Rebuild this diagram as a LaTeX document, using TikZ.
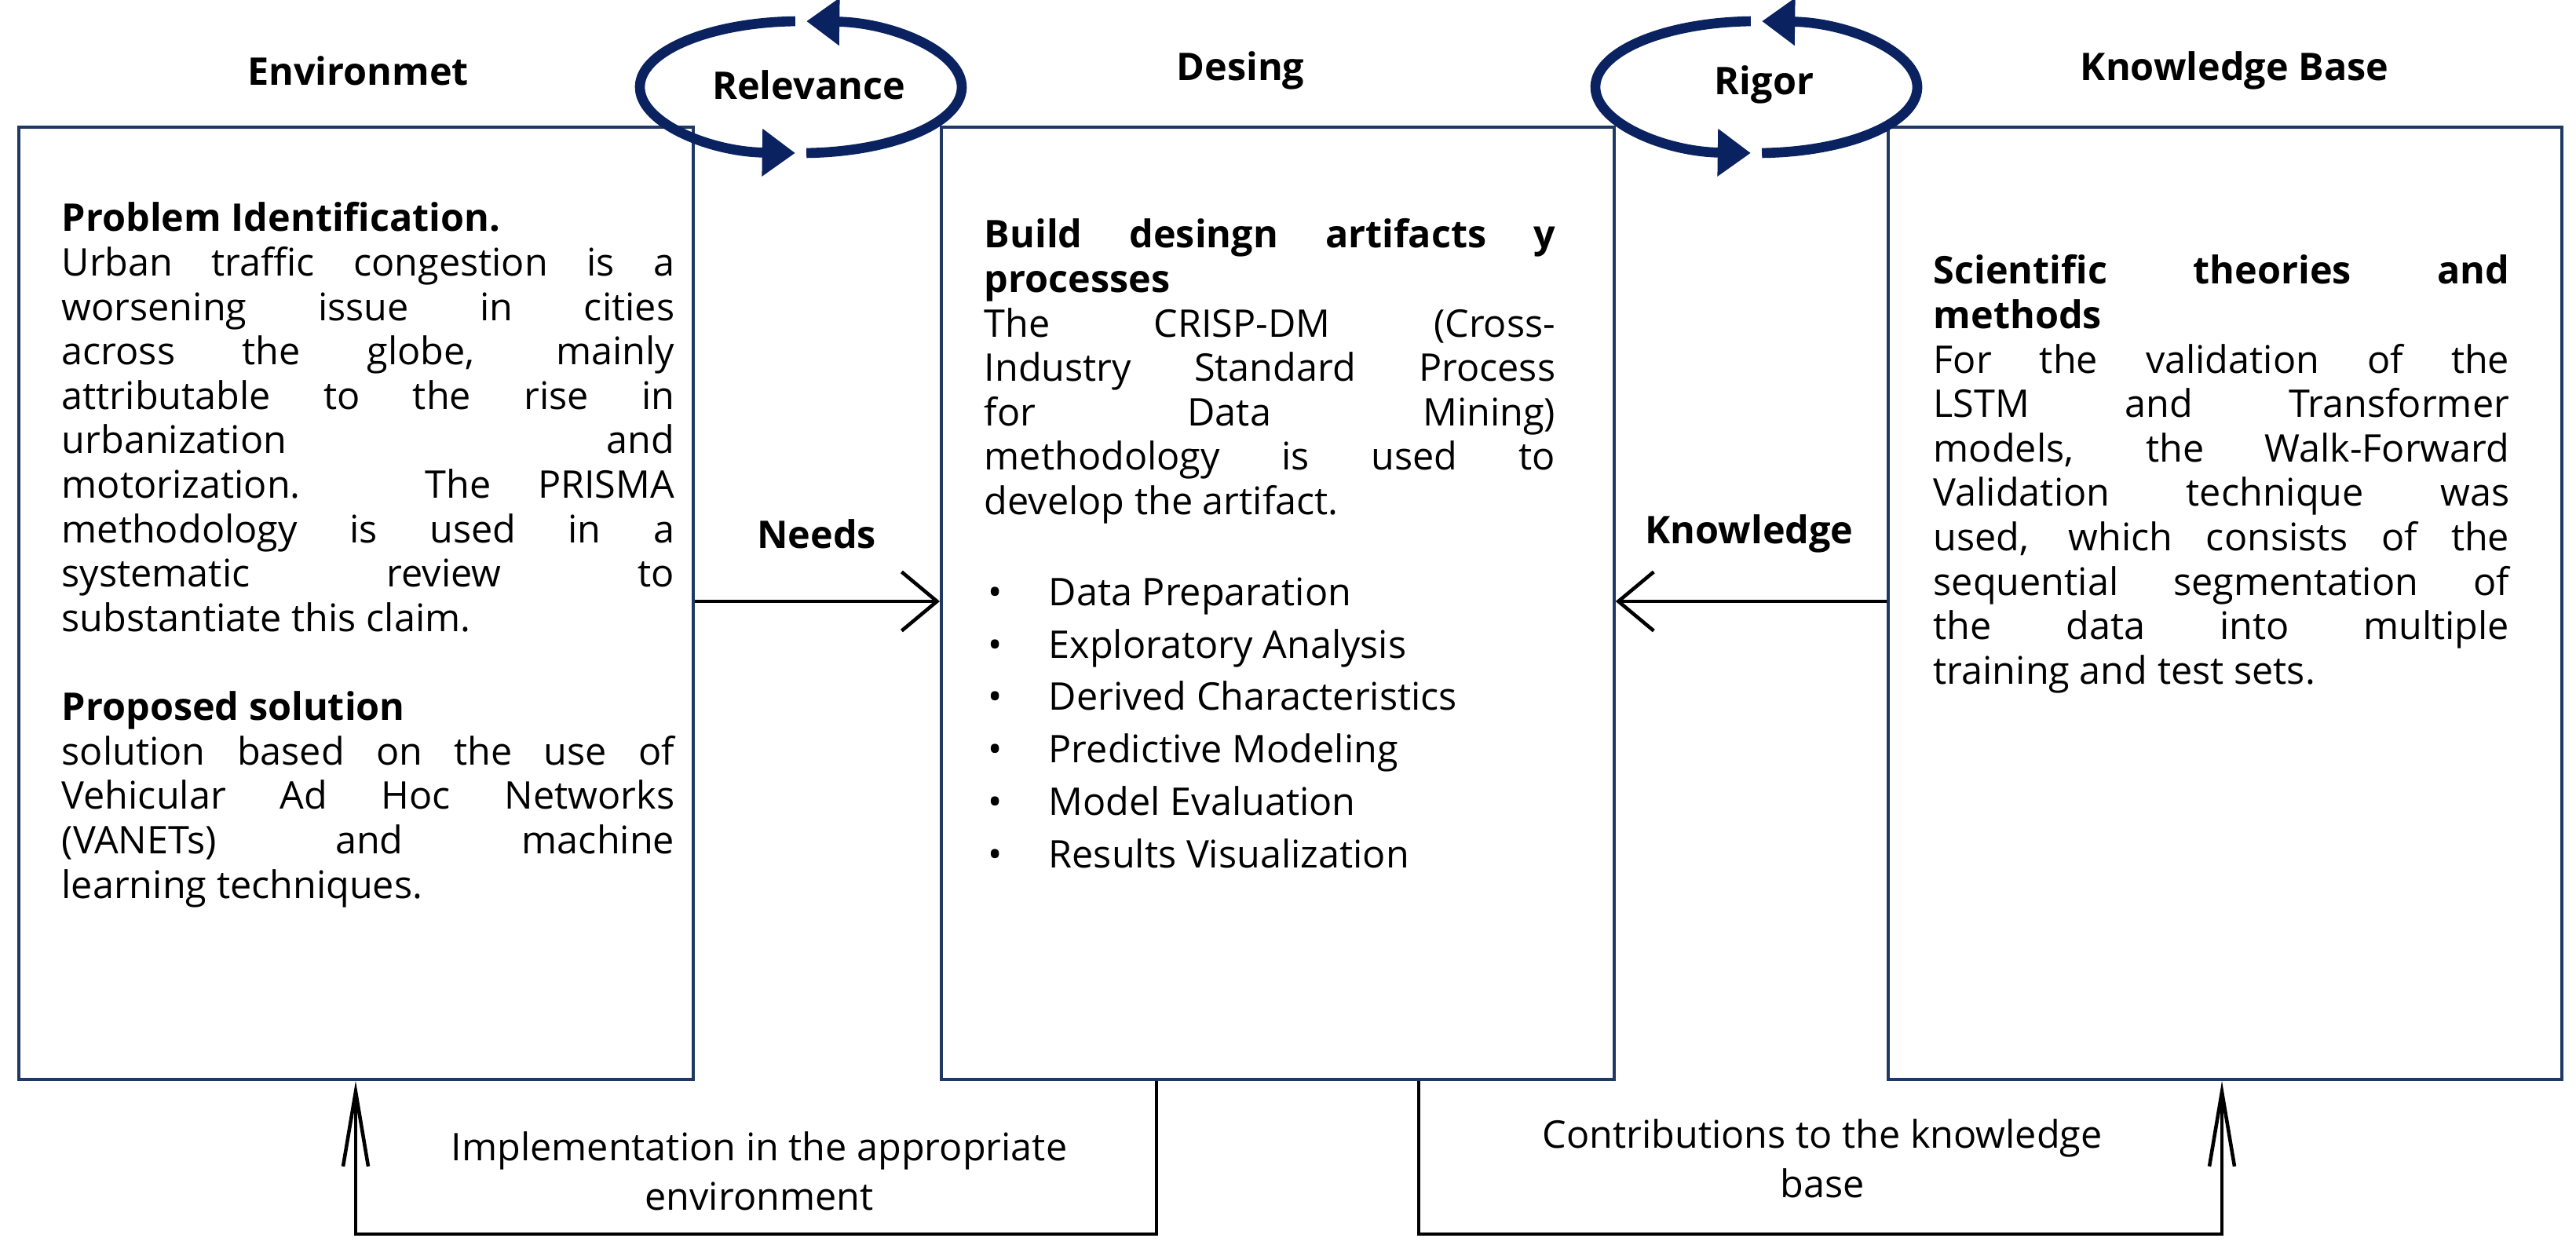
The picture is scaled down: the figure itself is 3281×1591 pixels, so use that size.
\documentclass[tikz,border=0pt]{standalone}
\usepackage{fontspec}
\setmainfont{Open Sans}
\usetikzlibrary{arrows.meta}
\definecolor{navy}{HTML}{0B2260}
\definecolor{boxc}{HTML}{1F3864}
\begin{document}
\begin{tikzpicture}[x=0.01cm,y=-0.01cm,
  box/.style={draw=boxc,line width=1.2pt,inner sep=0},
  body/.style={inner sep=0,anchor=north west,align=justify,font=\fontsize{13.8}{16.1}\selectfont},
  ttl/.style={inner sep=0,font=\bfseries\fontsize{13.8}{16}\selectfont},
  lbl/.style={inner sep=0,align=center,font=\fontsize{13.8}{17.8}\selectfont},
  conn/.style={line width=1.3pt,draw=black},
  openarr/.style={-{Straight Barb[length=0.45cm,width=0.75cm,line width=1.3pt]}},
  uparr/.style={-{Straight Barb[length=0.95cm,width=0.32cm,line width=1.3pt]}},
  cyc/.style={line width=3.6pt,draw=navy,-{Triangle[length=0.42cm,width=0.58cm]}}]
\useasboundingbox (0,0) rectangle (3281,1591);
\fill[white] (0,0) rectangle (3281,1591);

% boxes
\node[box,minimum width=8.58cm,minimum height=12.12cm,anchor=north west] (env) at (22,160) {};
\node[box,minimum width=8.56cm,minimum height=12.12cm,anchor=north west] (des) at (1197,160) {};
\node[box,minimum width=8.57cm,minimum height=12.12cm,anchor=north west] (kb) at (2403,160) {};

% titles
\node[ttl] (t1) at (456,90) {Environmet};
\node[ttl] (t2) at (1580,90) {Desing};
\node[ttl] (t3) at (2846,90) {Knowledge Base};

% cycles
\foreach \cx/\nm/\tx in {1020/rel/Relevance,2237/rig/Rigor}{
  \draw[cyc] (\cx,111) ++(268:205 and 84) arc[start angle=268,end angle=92,x radius=205,y radius=84];
  \draw[cyc] (\cx,111) ++(88:205 and 84) arc[start angle=88,end angle=-88,x radius=205,y radius=84];
  \node[ttl] (\nm) at (\cx+10,108) {\tx};
}

% texts
\node[body,text width=7.8cm] (envtxt) at (78,257) {%
\textbf{Problem Identification.}\par
Urban traffic congestion is a\linebreak worsening issue in cities\linebreak across the globe, mainly\linebreak attributable to the rise in\linebreak urbanization and\linebreak motorization. The PRISMA\linebreak methodology is used in a\linebreak systematic review to\linebreak substantiate this claim.\par\vspace{16.1pt}
\textbf{Proposed solution}\par
solution based on the use of\linebreak Vehicular Ad Hoc Networks\linebreak (VANETs) and machine\linebreak learning techniques.};

\node[body,text width=7.27cm] (destxt) at (1253,278) {%
\textbf{Build desingn artifacts y\linebreak processes}\par
The CRISP-DM (Cross-\linebreak Industry Standard Process\linebreak for Data Mining)\linebreak methodology is used to\linebreak develop the artifact.};

\node[body,align=left,font=\fontsize{13.8}{19}\selectfont] (bul) at (1258,735) {%
\makebox[0.77cm][l]{\textbullet}Data Preparation\\
\makebox[0.77cm][l]{\textbullet}Exploratory Analysis\\
\makebox[0.77cm][l]{\textbullet}Derived Characteristics\\
\makebox[0.77cm][l]{\textbullet}Predictive Modeling\\
\makebox[0.77cm][l]{\textbullet}Model Evaluation\\
\makebox[0.77cm][l]{\textbullet}Results Visualization};

\node[body,text width=7.33cm] (kbtxt) at (2462,324) {%
\textbf{Scientific theories and\linebreak methods}\par
For the validation of the\linebreak LSTM and Transformer\linebreak models, the Walk-Forward\linebreak Validation technique was\linebreak used, which consists of the\linebreak sequential segmentation of\linebreak the data into multiple\linebreak training and test sets.};

% horizontal connectors
\draw[conn,openarr] (env.east |- 0,766) -- (des.west |- 0,766);
\node[ttl] (needs) at (1040,680) {Needs};
\draw[conn,openarr] (kb.west |- 0,766) -- (des.east |- 0,766);
\node[ttl] (know) at (2228,680) {Knowledge};

% bottom connectors
\coordinate (b1) at (1473,1572);
\coordinate (b2) at (453,1572);
\draw[conn,uparr] (des.south -| 1473,0) -- (b1) -- (b2) -- (env.south -| 453,0);
\node[lbl] (impl) at (967,1492) {Implementation in the appropriate\\environment};
\coordinate (b3) at (1807,1572);
\coordinate (b4) at (2830,1572);
\draw[conn,uparr] (des.south -| 1807,0) -- (b3) -- (b4) -- (kb.south -| 2830,0);
\node[lbl] (contr) at (2321,1476) {Contributions to the knowledge\\base};
\end{tikzpicture}
\end{document}
